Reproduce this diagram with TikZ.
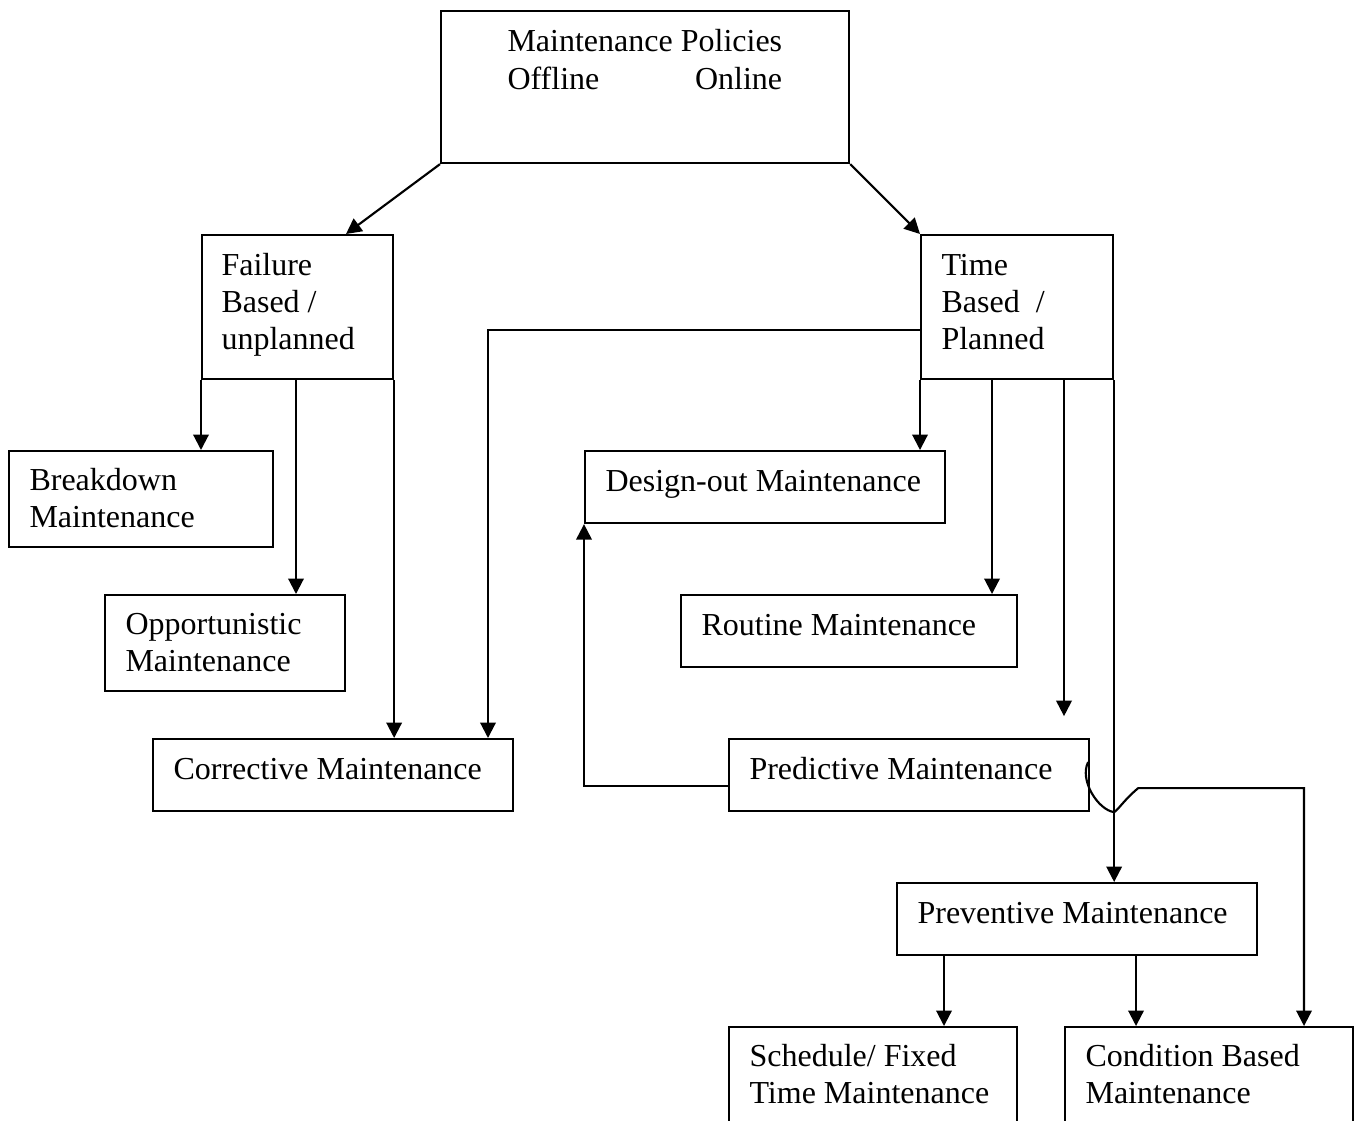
\documentclass[tikz,border=0pt]{standalone}
\usepackage{fontspec}
\setmainfont{Liberation Serif}
\usetikzlibrary{arrows.meta,calc}
\newcommand\mkbox[5]{\node[boxst, minimum width=#4*0.375pt, minimum height=#5*0.375pt] (#1) at (#2,#3) {};}
\begin{document}
\begin{tikzpicture}[x=0.375pt, y=-0.375pt,
  boxst/.style={draw, line width=0.8pt, rectangle, inner sep=0pt, anchor=north west},
  txt/.style={anchor=base west, inner sep=0pt, font=\fontsize{12pt}{13.9pt}\selectfont},
  arr/.style={line width=0.8pt, -{Triangle[length=5.8pt,width=5.8pt]}},
  ln/.style={line width=0.8pt}]
\clip (0,0) rectangle (1357,1120);
% boxes
\mkbox{top}{440}{10}{408}{152}
\mkbox{fail}{201}{234}{191}{144}
\mkbox{time}{920}{234}{192}{144}
\mkbox{brk}{8}{450}{264}{96}
\mkbox{opp}{104}{594}{240}{96}
\mkbox{corr}{152}{738}{360}{72}
\mkbox{des}{584}{450}{360}{72}
\mkbox{rout}{680}{594}{336}{72}
\mkbox{pred}{728}{738}{360}{72}
\mkbox{prev}{896}{882}{360}{72}
\mkbox{sched}{728}{1026}{288}{140}
\mkbox{cond}{1064}{1026}{288}{140}
% texts
\node[txt] (ttop) at (507,52) {\parbox[t]{103pt}{Maintenance Policies\\Offline\hfill Online}};
\node[txt] (tfail) at (221,275) {\parbox[t]{70pt}{Failure\\Based /\\unplanned}};
\node[txt] (ttime) at (941,275) {\parbox[t]{70pt}{Time\\Based\hspace{6pt}/\\Planned}};
\node[txt] (tbrk) at (29,490) {\parbox[t]{95pt}{Breakdown\\Maintenance}};
\node[txt] (topp) at (125,634) {\parbox[t]{95pt}{Opportunistic\\Maintenance}};
\node[txt] (tcorr) at (173,779) {Corrective Maintenance};
\node[txt] (tdes) at (605,491) {Design-out Maintenance};
\node[txt] (trout) at (701,635) {Routine Maintenance};
\node[txt] (tpred) at (749,779) {Predictive Maintenance};
\node[txt] (tprev) at (917,923) {Preventive Maintenance};
\node[txt] (tsched) at (749,1066) {\parbox[t]{110pt}{Schedule/ Fixed\\Time Maintenance}};
\node[txt] (tcond) at (1085,1066) {\parbox[t]{110pt}{Condition Based\\Maintenance}};
% helper coordinates
\coordinate (fA) at ($(fail.north west)+(145,0)$);
\coordinate (fB) at ($(fail.south west)+(95,0)$);
\coordinate (tA) at ($(time.north west)+(0,96)$);
\coordinate (cA) at ($(corr.north west)+(336,0)$);
\coordinate (tB) at ($(time.south west)+(72,0)$);
\coordinate (tC) at ($(time.south west)+(144,0)$);
\coordinate (tCend) at ($(time.south west)+(144,336)$);
\coordinate (pA) at ($(pred.north west)+(0,48)$);
\coordinate (pB) at ($(pred.north east)+(-2,24)$);
\coordinate (hopLow) at ($(time.south east)+(0,432)$);
\coordinate (hopUp) at ($(time.south east)+(24,408)$);
\coordinate (cB) at ($(cond.north west)+(240,0)$);
\coordinate (vA) at ($(prev.south west)+(48,0)$);
\coordinate (vB) at ($(prev.south west)+(240,0)$);
% connectors
\draw[arr] (top.south west) -- (fA);
\draw[arr] (top.south east) -- (time.north west);
\draw[arr] (fail.south west) -- (fail.south west |- brk.north);
\draw[arr] (fB) -- (fB |- opp.north);
\draw[arr] (fail.south east) -- (fail.south east |- corr.north);
\draw[arr] (tA) -| (cA);
\draw[arr] (time.south west) -- (time.south west |- des.north);
\draw[arr] (tB) -- (tB |- rout.north);
\draw[arr] (tC) -- (tCend);
\draw[arr] (time.south east) -- (time.south east |- prev.north);
\draw[arr] (pA) -| (des.south west);
\draw[arr] (pB) .. controls (1079,780) and (1098,810) .. (hopLow)
  .. controls (1118,810) and (1124,800) .. (hopUp) -| (cB);
\draw[arr] (vA) -- (vA |- sched.north);
\draw[arr] (vB) -- (vB |- cond.north);
\end{tikzpicture}
\end{document}
